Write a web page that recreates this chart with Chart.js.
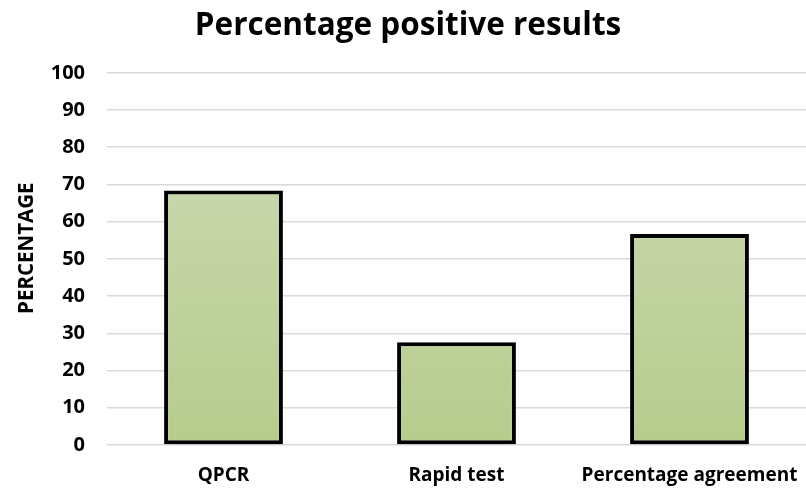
<!DOCTYPE html>
<html>
<head>
<meta charset="utf-8">
<script src="https://cdn.jsdelivr.net/npm/chart.js@4/dist/chart.umd.min.js"></script>
<style>
  html, body { margin: 0; padding: 0; background: #fff; }
  #wrap { width: 806px; height: 490px; }
</style>
</head>
<body>
<div id="wrap"><canvas id="chart" width="806" height="490"></canvas></div>
<script>
const categories = ["QPCR", "Rapid test", "Percentage agreement"];
const percentages = [68.4, 27.6, 56.7];
const yTicks = [0, 10, 20, 30, 40, 50, 60, 70, 80, 90, 100];

const FONT = "'Open Sans', 'Liberation Sans', sans-serif";

function barGradient(context) {
    const area = context.chart.chartArea;
    if (!area) {
        return "#c0d39d";
    }
    const g = context.chart.ctx.createLinearGradient(0, area.top, 0, area.bottom);
    g.addColorStop(0, "#cfdbb6");
    g.addColorStop(1, "#b6cc8d");
    return g;
}

const ctx = document.getElementById("chart").getContext("2d");
new Chart(ctx, {
    type: "bar",
    data: {
        labels: categories,
        datasets: [{
            data: percentages,
            backgroundColor: barGradient,
            borderColor: "#000",
            borderWidth: 4,
            borderSkipped: false,
            categoryPercentage: 0.51,
            barPercentage: 1.0,
        }],
    },
    options: {
        responsive: false,
        animation: false,
        layout: {padding: {left: 10, right: 0, top: 0, bottom: 0}},
        plugins: {
            legend: {display: false},
            tooltip: {enabled: false},
            title: {
                display: true,
                text: "Percentage positive results",
                color: "#000",
                font: {family: FONT, size: 31.5, weight: "bold"},
                padding: {top: 7, bottom: 28},
            },
        },
        scales: {
            x: {
                afterFit: axis => {
                    axis.height = 45;
                    axis.paddingLeft = 0;
                    axis.paddingRight = 0;
                },
                grid: {display: false, drawTicks: false},
                border: {display: false},
                ticks: {
                    color: "#000",
                    font: {family: FONT, size: 19, weight: "bold"},
                    padding: 19,
                    maxRotation: 0,
                    autoSkip: false,
                },
            },
            y: {
                min: 0,
                max: 100,
                afterBuildTicks: axis => {
                    axis.ticks = yTicks.map(v => ({value: v}));
                },
                afterFit: axis => { axis.width = 97; },
                grid: {color: "#d9d9d9", lineWidth: 1.5, drawTicks: false},
                border: {display: false},
                ticks: {
                    color: "#000",
                    font: {family: FONT, size: 20, weight: "bold"},
                    padding: 22,
                },
                title: {
                    display: true,
                    // leading spaces lift the label a little above the axis middle
                    text: "    PERCENTAGE",
                    color: "#000",
                    font: {family: FONT, size: 20.5, weight: "bold"},
                    padding: {top: 5, bottom: 12},
                },
            },
        },
    },
});
</script>
</body>
</html>
